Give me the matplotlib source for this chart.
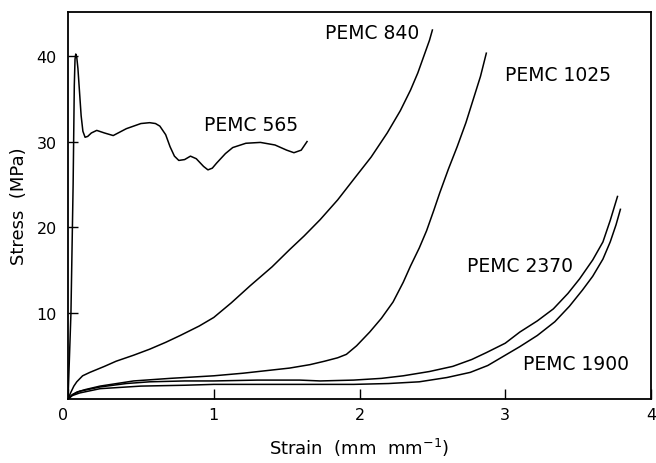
import matplotlib
matplotlib.use("Agg")
import matplotlib.pyplot as plt

# ── Curve data (strain in mm/mm, stress in MPa) ──
strain_565 = [0.0, 0.02, 0.035, 0.043, 0.048, 0.053, 0.06, 0.068, 0.078, 0.09, 0.102, 0.117,
              0.135, 0.16, 0.197, 0.25, 0.31, 0.40, 0.50, 0.56, 0.60, 0.63, 0.67, 0.70,
              0.73, 0.76, 0.80, 0.84, 0.88, 0.93, 0.96, 0.99, 1.02, 1.08, 1.13, 1.22,
              1.32, 1.42, 1.50, 1.55, 1.60, 1.64]
stress_565 = [0.0, 10.0, 25.0, 36.5, 39.6, 40.2, 39.8, 38.5, 36.0, 33.0, 31.2, 30.5,
              30.6, 31.0, 31.3, 31.0, 30.7, 31.5, 32.1, 32.2, 32.1, 31.8, 30.8, 29.4,
              28.3, 27.8, 27.9, 28.3, 28.0, 27.1, 26.7, 26.9, 27.5, 28.6, 29.3, 29.8,
              29.9, 29.6, 29.0, 28.7, 29.0, 30.0]

strain_840 = [0.0, 0.02, 0.04, 0.06, 0.10, 0.15, 0.25, 0.33, 0.45, 0.56, 0.67, 0.77,
              0.90, 1.00, 1.12, 1.25, 1.40, 1.52, 1.62, 1.73, 1.85, 1.96, 2.08, 2.19,
              2.28, 2.35, 2.40, 2.44, 2.48, 2.50]
stress_840 = [0.0, 0.8, 1.5, 2.0, 2.7, 3.1, 3.8, 4.4, 5.1, 5.8, 6.6, 7.4,
              8.5, 9.5, 11.2, 13.2, 15.4, 17.4, 19.0, 20.9, 23.2, 25.6, 28.2, 31.0,
              33.6, 36.0, 38.0, 39.9, 41.8, 43.0]

strain_1025 = [0.0, 0.03, 0.06, 0.12, 0.22, 0.45, 0.70, 1.00, 1.20, 1.36, 1.52, 1.66,
               1.76, 1.85, 1.91, 1.98, 2.07, 2.15, 2.23, 2.30, 2.35, 2.41, 2.46, 2.51,
               2.55, 2.61, 2.67, 2.73, 2.78, 2.83, 2.87]
stress_1025 = [0.0, 0.5, 0.8, 1.1, 1.5, 2.1, 2.4, 2.7, 3.0, 3.3, 3.6, 4.0,
               4.4, 4.8, 5.2, 6.2, 7.8, 9.4, 11.3, 13.6, 15.5, 17.6, 19.6, 22.0,
               24.0, 26.8, 29.4, 32.2, 34.9, 37.6, 40.3]

strain_2370 = [0.0, 0.03, 0.08, 0.22, 0.40, 0.56, 0.80, 1.00, 1.30, 1.59, 1.73, 1.96,
               2.15, 2.30, 2.48, 2.64, 2.77, 2.87, 3.00, 3.10, 3.22, 3.33, 3.43, 3.51,
               3.60, 3.67, 3.72, 3.77]
stress_2370 = [0.0, 0.5, 0.9, 1.4, 1.8, 2.0, 2.1, 2.1, 2.2, 2.2, 2.1, 2.2,
               2.4, 2.7, 3.2, 3.8, 4.6, 5.4, 6.5, 7.8, 9.1, 10.5, 12.3, 14.0,
               16.2, 18.3, 20.8, 23.6]

strain_1900 = [0.0, 0.03, 0.08, 0.22, 0.50, 0.80, 1.00, 1.30, 1.59, 1.73, 1.96, 2.20,
               2.41, 2.60, 2.76, 2.88, 2.98, 3.10, 3.22, 3.34, 3.44, 3.53, 3.60, 3.67,
               3.72, 3.76, 3.79]
stress_1900 = [0.0, 0.4, 0.7, 1.2, 1.5, 1.6, 1.7, 1.7, 1.7, 1.7, 1.7, 1.8,
               2.0, 2.5, 3.1, 3.9, 4.9, 6.1, 7.4, 9.0, 10.8, 12.7, 14.3, 16.3,
               18.3, 20.3, 22.1]

curves = [
    ("PEMC 565", strain_565, stress_565, (0.93, 32.0)),
    ("PEMC 840", strain_840, stress_840, (1.76, 42.7)),
    ("PEMC 1025", strain_1025, stress_1025, (3.00, 37.8)),
    ("PEMC 2370", strain_2370, stress_2370, (2.74, 15.5)),
    ("PEMC 1900", strain_1900, stress_1900, (3.12, 4.1)),
]

x_ticks = [0, 1, 2, 3, 4]
x_labels = ["", "1", "2", "3", "4"]
y_ticks = [10, 20, 30, 40]

plt.rcParams["font.family"] = "DejaVu Sans"

fig = plt.figure(figsize=(6.56, 4.64), dpi=100)
ax = fig.add_axes([0.1037, 0.138, 0.8887, 0.834])

for name, xs, ys, (lx, ly) in curves:
    ax.plot(xs, ys, color="black", linewidth=1.1, solid_joinstyle="round")
    ax.text(lx, ly, name, fontsize=13.5, va="center", ha="left", color="black")

ax.set_xlim(0, 4)
ax.set_ylim(0, 45.1)
ax.set_xticks(x_ticks)
ax.set_xticklabels(x_labels)
ax.set_yticks(y_ticks)
ax.tick_params(direction="in", length=7, width=1.0, labelsize=11.5, pad=8)
ax.tick_params(axis="x", pad=6)
for s in ax.spines.values():
    s.set_linewidth(1.3)

# the shared origin label sits below-left of the corner
ax.text(0, -0.02, "0", transform=ax.transAxes, ha="right", va="top", fontsize=11.5)

ax.set_xlabel("Strain  (mm  mm$^{-1}$)", fontsize=13, labelpad=10)
ax.set_ylabel("Stress  (MPa)", fontsize=13, labelpad=6)

fig.savefig("out.png", dpi=100)
